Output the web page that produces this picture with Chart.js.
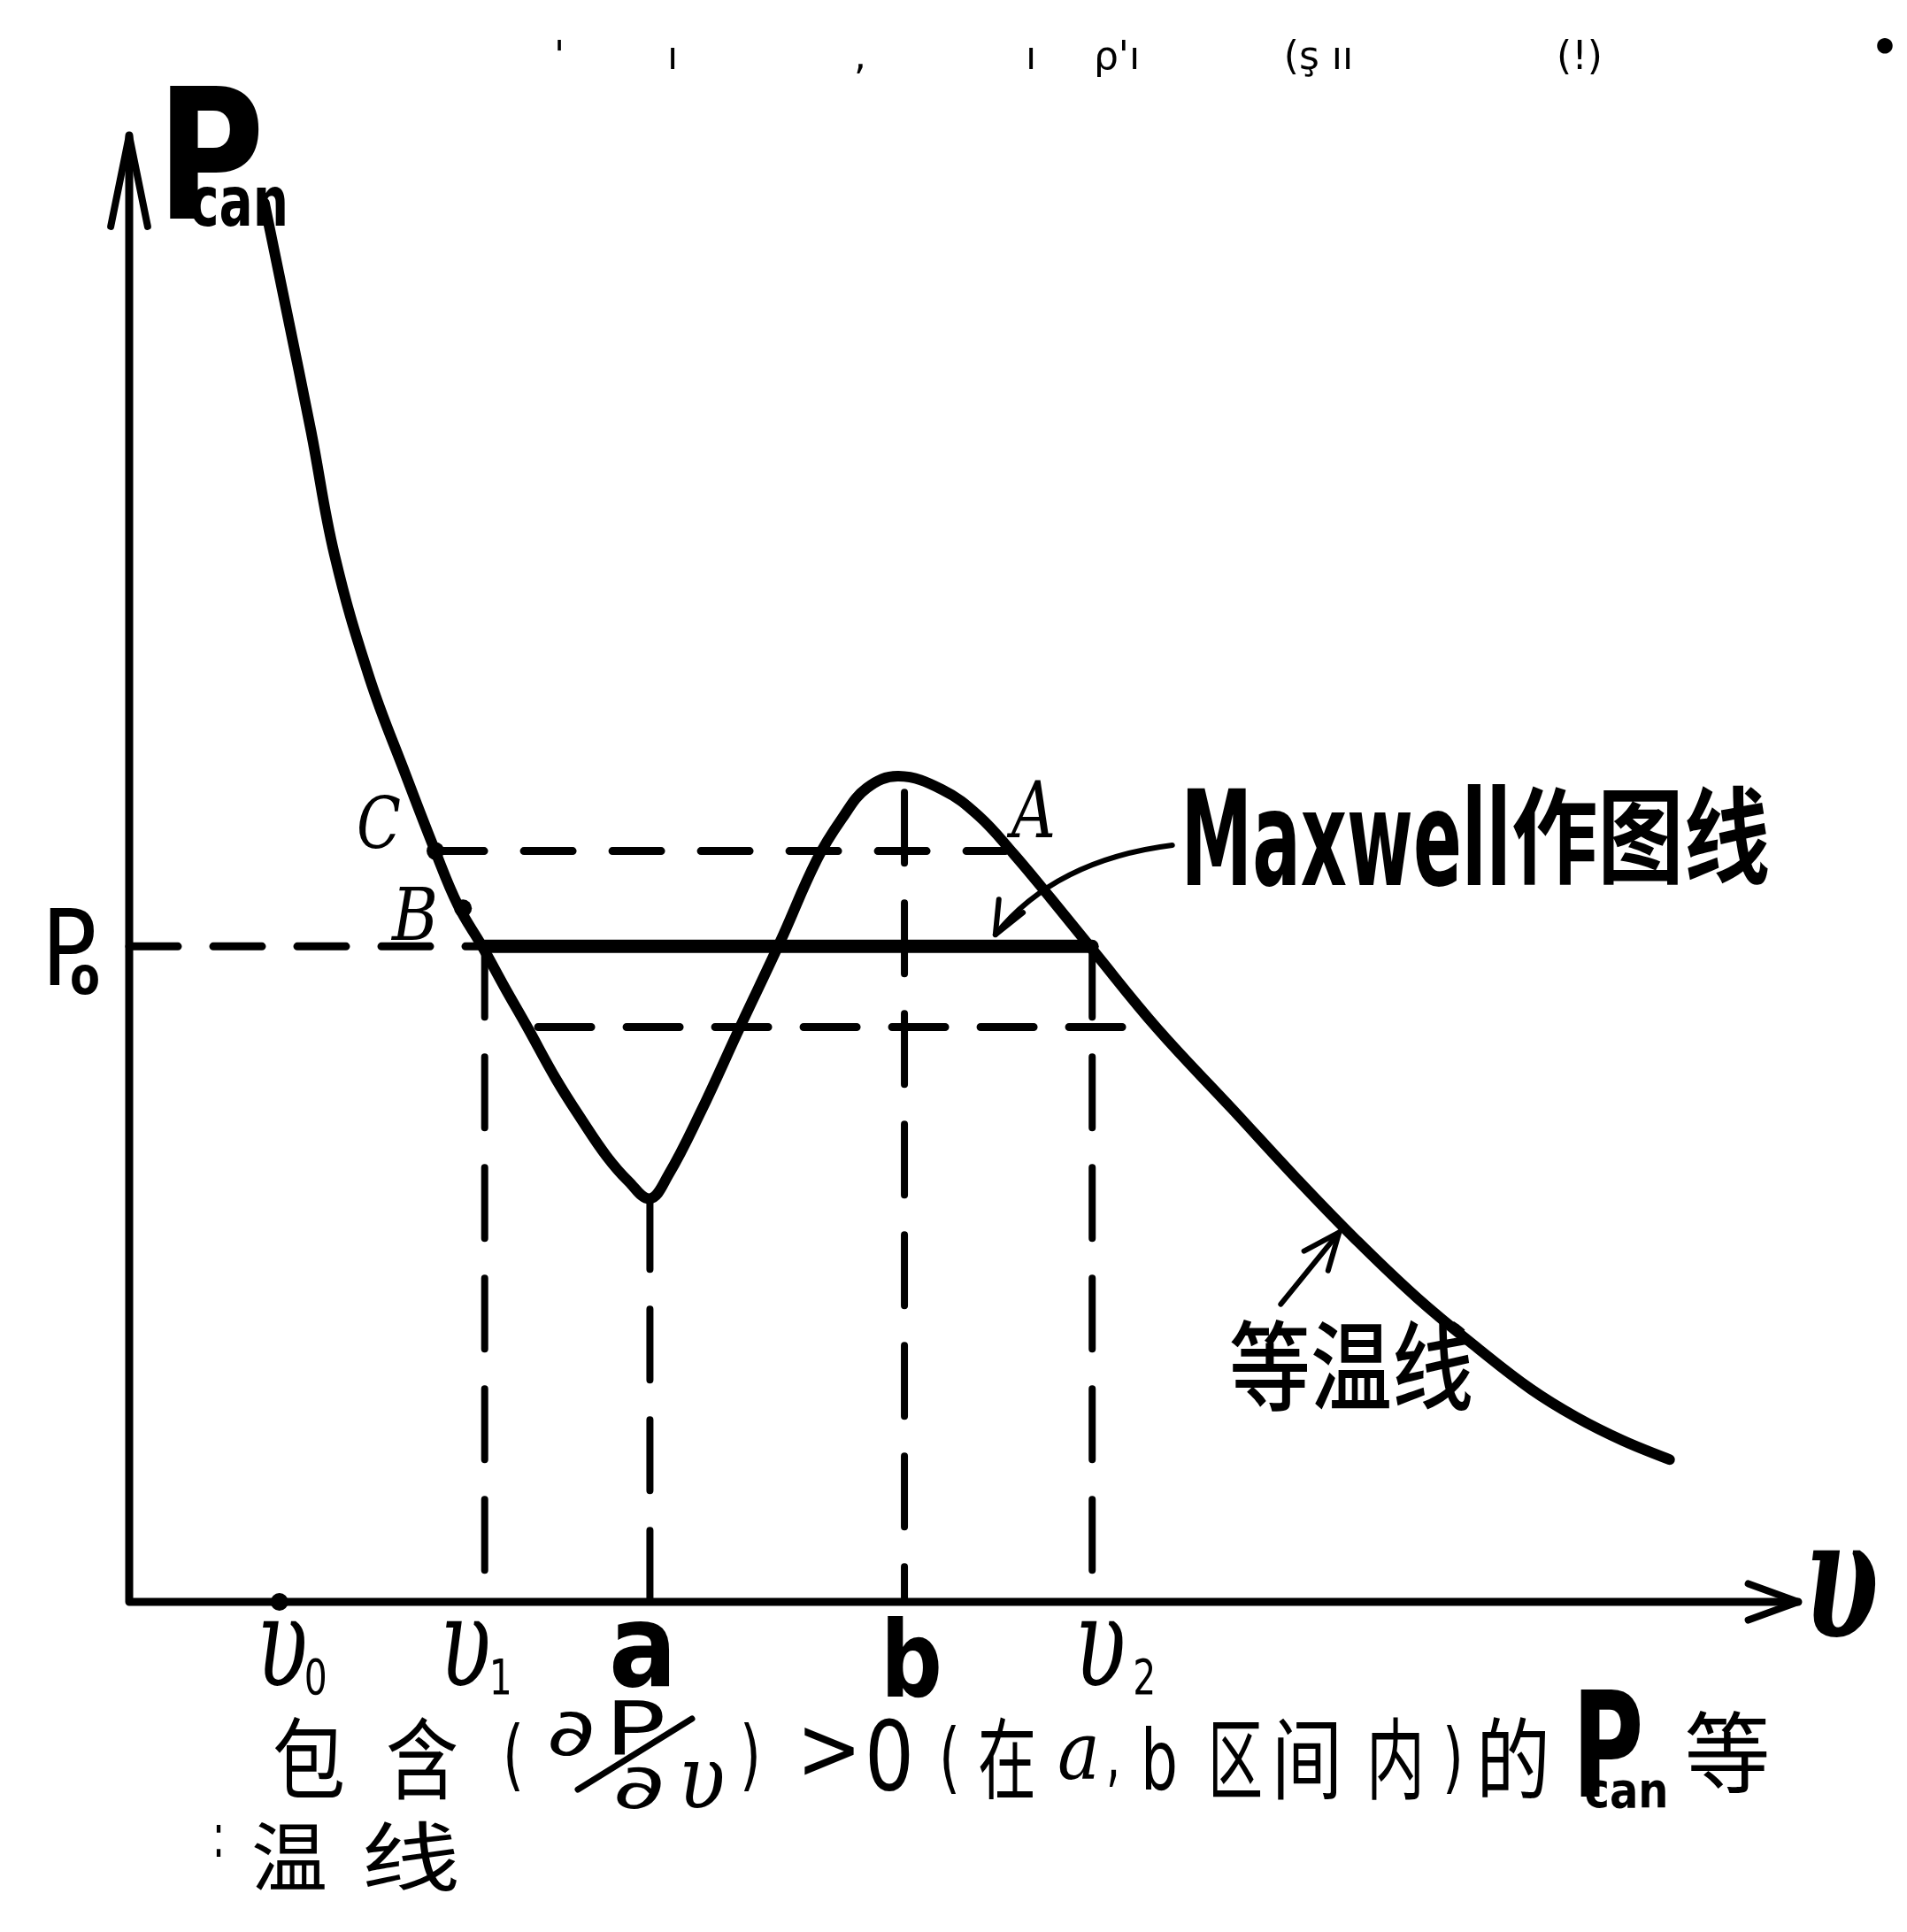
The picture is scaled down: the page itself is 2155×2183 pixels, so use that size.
<!DOCTYPE html>
<html lang="zh">
<head>
<meta charset="utf-8">
<title>Pcan 等温线</title>
<script src="https://cdn.jsdelivr.net/npm/chart.js@4.4.0/dist/chart.umd.min.js"></script>
<style>
  html, body { margin: 0; padding: 0; background: #fff; }
  #grafico { display: block; }
</style>
</head>
<body>
<canvas id="grafico" width="2155" height="2183"></canvas>
<script>
// Isoterma P_can(v) (unidades arbitrarias 0..10)
const curvaV = [0.81, 0.94, 1.09, 1.23, 1.44, 1.66, 1.83, 1.97, 2.12, 2.25, 2.38, 2.56, 2.71, 2.86, 2.99,
                3.12, 3.23, 3.42, 3.66, 3.90, 4.12, 4.27, 4.42, 4.61, 4.87, 5.09, 5.30, 5.52, 5.77, 6.16,
                6.61, 7.00, 7.35, 7.72, 8.08, 8.40, 8.67, 8.95, 9.23];
const curvaP = [9.54, 8.82, 7.98, 7.14, 6.30, 5.63, 5.13, 4.75, 4.46, 4.19, 3.93, 3.56, 3.29, 3.04, 2.87,
                2.75, 2.91, 3.33, 3.92, 4.50, 5.06, 5.34, 5.55, 5.63, 5.54, 5.36, 5.10, 4.80, 4.45, 3.91,
                3.36, 2.88, 2.47, 2.07, 1.73, 1.45, 1.26, 1.10, 0.97];

// Niveles de presión
const nivelP0 = 4.47;
const nivelC = 5.12;
const nivelBajo = 3.92;

// Volúmenes marcados sobre el eje v
const ticksV = [0.90, 2.13, 3.12, 4.645, 5.77];
const ticksTexto = ['υ', 'υ', 'a', 'b', 'υ'];
const ticksSub = ['0', '1', '', '', '2'];

// Líneas verticales punteadas (v1, a, b, v2) y su extremo superior
const verticalV = [2.13, 3.12, 4.645, 5.77];
const verticalTope = [4.47, 2.75, 5.52, 4.47];

// Puntos marcados C y B
const puntosV = [1.835, 2.00];
const puntosP = [5.12, 4.73];

function puntos(vs, ps) {
    return vs.map((v, i) => ({ x: v, y: ps[i] }));
}

function linea(datos, ancho, dash, tension) {
    return {
        data: datos,
        showLine: true,
        borderColor: '#000',
        backgroundColor: '#000',
        borderWidth: ancho,
        borderDash: dash || [],
        borderCapStyle: 'round',
        borderJoinStyle: 'round',
        pointRadius: 0,
        tension: tension || 0,
        fill: false,
        clip: false
    };
}

// Texto con ancho forzado (escala horizontal)
function texto(ctx, str, cx, y, fuente, ancho, base) {
    ctx.save();
    ctx.font = fuente;
    ctx.textBaseline = base || 'alphabetic';
    ctx.textAlign = 'left';
    const w = ctx.measureText(str).width;
    ctx.translate(cx, y);
    if (ancho) ctx.scale(ancho / w, 1);
    ctx.fillText(str, -w / 2, 0);
    ctx.restore();
}

function punta(ctx, x1, y1, x2, y2, largo, abre) {
    const ang = Math.atan2(y2 - y1, x2 - x1);
    ctx.beginPath();
    ctx.moveTo(x2 - largo * Math.cos(ang - abre), y2 - largo * Math.sin(ang - abre));
    ctx.lineTo(x2, y2);
    ctx.lineTo(x2 - largo * Math.cos(ang + abre), y2 - largo * Math.sin(ang + abre));
    ctx.stroke();
}

const SANS = '"DejaVu Sans", "Liberation Sans", sans-serif';
const SERIF = '"DejaVu Serif", "Liberation Serif", serif';
const CJK = '"Noto Sans CJK SC", "Noto Sans CJK JP", sans-serif';

// Ejes, flechas y rótulos dibujados con las escalas del gráfico
const dibujoPlugin = {
    id: 'dibujo',
    afterDatasetsDraw(chart) {
        const ctx = chart.ctx;
        const xs = chart.scales.x;
        const ys = chart.scales.y;
        const px = v => xs.getPixelForValue(v);
        const py = p => ys.getPixelForValue(p);

        ctx.save();
        ctx.strokeStyle = '#000';
        ctx.fillStyle = '#000';
        ctx.lineCap = 'round';
        ctx.lineJoin = 'round';

        // ejes
        ctx.lineWidth = 9;
        ctx.beginPath();
        ctx.moveTo(px(0), py(10));
        ctx.lineTo(px(0), py(0));
        ctx.lineTo(px(10), py(0));
        ctx.stroke();
        ctx.lineWidth = 8;
        punta(ctx, px(0), py(0), px(0), py(10), 105, 0.2);
        punta(ctx, px(0), py(0), px(10), py(0), 60, 0.35);

        // flecha de "Maxwell作图线"
        ctx.lineWidth = 6;
        ctx.beginPath();
        ctx.moveTo(px(6.25), py(5.16));
        ctx.quadraticCurveTo(px(5.55), py(5.06), px(5.19), py(4.55));
        ctx.stroke();
        punta(ctx, px(5.3), py(4.78), px(5.19), py(4.55), 40, 0.4);

        // flecha de "等温线"
        ctx.beginPath();
        ctx.moveTo(px(6.90), py(2.03));
        ctx.lineTo(px(7.25), py(2.52));
        ctx.stroke();
        punta(ctx, px(6.90), py(2.03), px(7.25), py(2.52), 45, 0.4);

        // rótulo del eje P
        texto(ctx, 'P', 238, 247, 'bold 205px ' + SANS, 122);
        texto(ctx, 'can', 270, 255, 'bold 78px ' + SANS, 112);
        // P0
        texto(ctx, 'P', 78, 1113, '120px ' + SANS, 63);
        texto(ctx, 'o', 96, 1123, 'bold 58px ' + SANS, 34);
        // C, B, A
        texto(ctx, 'C', 428, 958, 'italic 80px ' + SERIF, 50);
        texto(ctx, 'B', 469, 1062, 'italic 82px ' + SERIF, 52);
        texto(ctx, 'A', 1168, 946, 'italic 88px ' + SERIF, 50);
        // anotaciones
        texto(ctx, 'Maxwell', 1521, 1000, 'bold 150px ' + SANS, 373);
        texto(ctx, '作图线', 1854, 944, 'bold 118px ' + CJK, 292, 'middle');
        texto(ctx, '等温线', 1527, 1543, '500 110px ' + CJK, 276, 'middle');
        // rótulo del eje v
        texto(ctx, 'υ', 2081, 1850, 'bold italic 190px ' + SERIF, 84);

        // marcas del eje v
        const dxMain = [3, -22, -8, 8, 9];
        const dxSub = [41, 18, 0, 0, 59];
        ticksV.forEach((v, i) => {
            const x = px(v);
            if (ticksSub[i]) {
                texto(ctx, ticksTexto[i], x + dxMain[i], 1905, 'italic 140px ' + SERIF, 58);
                texto(ctx, ticksSub[i], x + dxSub[i], 1914, '55px ' + SANS, 26);
            } else if (ticksTexto[i] === 'a') {
                texto(ctx, 'a', x + dxMain[i], 1905, 'bold 130px ' + SANS, 77);
            } else {
                texto(ctx, 'b', x + dxMain[i], 1917, 'bold 120px ' + SANS, 70);
            }
        });

        // leyenda inferior
        const cy = 1987;
        texto(ctx, '包', 349, cy, '100px ' + CJK, 82, 'middle');
        texto(ctx, '含', 477, cy, '100px ' + CJK, 82, 'middle');
        texto(ctx, '(', 580, 2012, '88px ' + SANS, 24);
        texto(ctx, '∂', 645, 1983, '74px ' + SANS, 56);
        texto(ctx, 'P', 718, 1983, '84px ' + SANS, 69);
        ctx.lineWidth = 7;
        ctx.beginPath();
        ctx.moveTo(782, 1942);
        ctx.lineTo(653, 2022);
        ctx.stroke();
        texto(ctx, '∂', 722, 2043, '70px ' + SANS, 60);
        texto(ctx, 'υ', 793, 2043, 'italic 100px ' + SERIF, 53);
        texto(ctx, ')', 848, 2012, '88px ' + SANS, 24);
        texto(ctx, '>', 937, 2010, '100px ' + SANS, 74);
        texto(ctx, '0', 1005, 2022, '108px ' + SANS, 56);
        texto(ctx, '(', 1073, 2015, '88px ' + SANS, 24);
        texto(ctx, '在', 1138, cy, '100px ' + CJK, 66, 'middle');
        texto(ctx, 'a', 1219, 2010, 'italic 90px ' + SERIF, 48);
        texto(ctx, ',', 1258, 2010, '80px ' + SANS, 16);
        texto(ctx, 'b', 1310, 2022, '95px ' + SANS, 42);
        texto(ctx, '区', 1396, cy, '100px ' + CJK, 62, 'middle');
        texto(ctx, '间', 1477, cy, '100px ' + CJK, 80, 'middle');
        texto(ctx, '内', 1577, cy, '100px ' + CJK, 66, 'middle');
        texto(ctx, ')', 1642, 2015, '88px ' + SANS, 24);
        texto(ctx, '的', 1710, cy, '100px ' + CJK, 84, 'middle');
        texto(ctx, 'P', 1817, 2030, 'bold 165px ' + SANS, 81);
        texto(ctx, 'can', 1838, 2042, 'bold 55px ' + SANS, 95);
        texto(ctx, '等', 1952, 1980, '100px ' + CJK, 97, 'middle');
        // segunda línea
        texto(ctx, ':', 247, 2098, '70px ' + SANS, 14);
        texto(ctx, '温', 327, 2098, '85px ' + CJK, 86, 'middle');
        texto(ctx, '线', 464, 2098, '85px ' + CJK, 112, 'middle');

        // manchas del escaneo arriba
        const arriba = [["'", 632], ['ı', 760], [',', 972], ['ı', 1165], ["ρ'ı", 1262], ['(ş ıı', 1490], ['(!)', 1785]];
        arriba.forEach(t => texto(ctx, t[0], t[1], 78, '44px ' + SANS));
        texto(ctx, '•', 2130, 70, 'bold 50px ' + SANS);

        ctx.restore();
    }
};

const datasets = [
    linea(puntos(curvaV, curvaP), 12, null, 0.4),
    linea([{ x: 0, y: nivelP0 }, { x: verticalV[0], y: nivelP0 }], 9, [55, 40]),
    linea([{ x: verticalV[0], y: nivelP0 }, { x: verticalV[3], y: nivelP0 }], 15),
    linea([{ x: puntosV[0], y: nivelC }, { x: 5.25, y: nivelC }], 9, [55, 45]),
    linea([{ x: 2.45, y: nivelBajo }, { x: 6.13, y: nivelBajo }], 9, [60, 40])
];
verticalV.forEach((v, i) => {
    datasets.push(linea([{ x: v, y: verticalTope[i] }, { x: v, y: 0 }], 8, [80, 45]));
});
datasets.push({
    data: puntos(puntosV, puntosP).concat([{ x: ticksV[0], y: 0 }]),
    showLine: false,
    pointRadius: 10,
    pointBackgroundColor: '#000',
    pointBorderWidth: 0,
    clip: false
});

new Chart(document.getElementById('grafico').getContext('2d'), {
    type: 'scatter',
    data: { datasets: datasets },
    options: {
        responsive: false,
        devicePixelRatio: 1,
        animation: false,
        events: [],
        layout: { padding: { left: 146, right: 123, top: 153, bottom: 373 } },
        plugins: { legend: { display: false }, tooltip: { enabled: false } },
        scales: {
            x: { type: 'linear', min: 0, max: 10, display: false },
            y: { type: 'linear', min: 0, max: 10, display: false }
        }
    },
    plugins: [dibujoPlugin]
});
</script>
</body>
</html>
